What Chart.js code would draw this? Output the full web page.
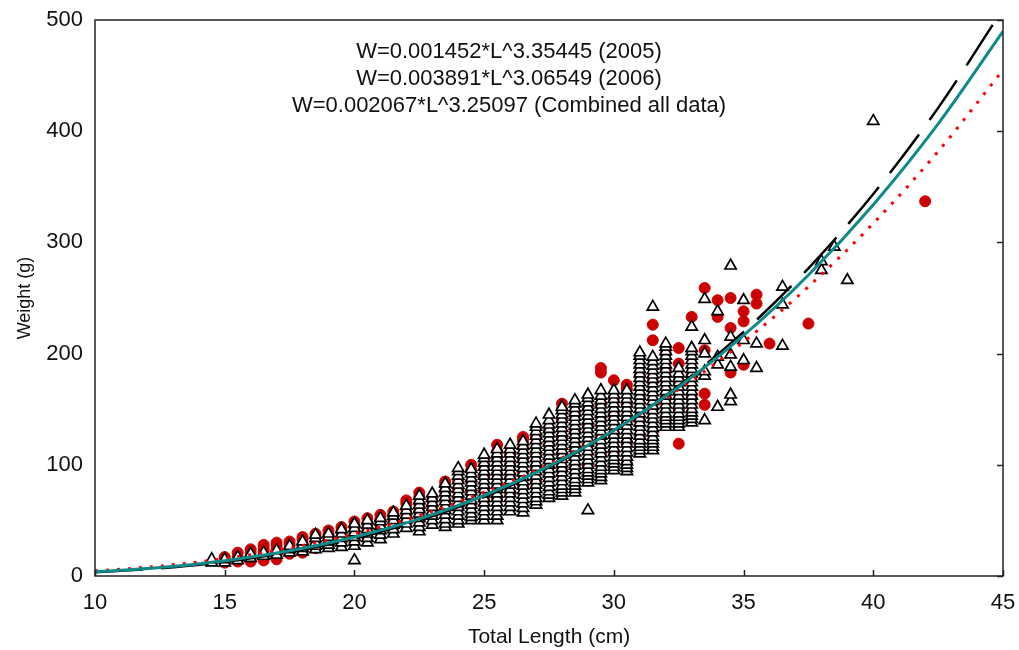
<!DOCTYPE html>
<html>
<head>
<meta charset="utf-8">
<script src="https://cdn.jsdelivr.net/npm/chart.js@4.4.0/dist/chart.umd.min.js"></script>
<style>
  html, body { margin: 0; padding: 0; background: #fff; }
</style>
</head>
<body>
<canvas id="myChart" width="1019" height="650"></canvas>
<script>
// fitted curves, read at every 2.5 cm
var curveLen = [10, 12.5, 15, 17.5, 20, 22.5, 25, 27.5, 30, 32.5, 35, 37.5, 40, 42.5, 45];
var curve2005 = [3.28, 6.94, 12.8, 21.5, 33.6, 49.9, 71.0, 97.8, 130.9, 171.2, 219.5, 276.7, 343.6, 421.0, 510.0];
var curve2006 = [4.52, 8.97, 15.7, 25.2, 37.9, 54.4, 75.1, 100.5, 131.3, 167.8, 210.6, 260.2, 317.1, 381.8, 455.0];
var curveAll = [3.68, 7.61, 13.8, 22.7, 35.1, 51.4, 72.4, 98.8, 131.0, 170.0, 216.3, 270.7, 333.9, 406.6, 489.7];

// 2006 samples (open triangles), one list of weights per length class
var triLen = [14.5, 15, 15.5, 16, 16.5, 17, 17.5, 18, 18.5, 19, 19.5, 20, 20.5, 21, 21.5, 22, 22.5, 23, 23.5, 24,
  24.5, 25, 25.5, 26, 26.5, 27, 27.5, 28, 28.5, 29, 29.5, 30, 30.5, 31, 31.5, 32, 32.5, 33, 33.5, 34,
  34.5, 35, 35.5, 36.5, 38, 38.5, 39, 40];
var triWeight = [
  [12, 15], [12, 15], [14, 17], [16, 20], [18, 21], [19, 23], [21, 24, 27], [22, 25, 28, 31],
  [24, 27, 30, 34, 37], [25, 28, 31, 35, 38], [26, 30, 34, 38, 42], [14, 27, 31, 35, 39, 43, 47],
  [30, 34, 38, 42, 46, 50], [33, 37, 41, 45, 49, 52], [38, 42, 46, 50, 54, 57], [43, 47, 51, 55, 59, 63],
  [40, 44, 48, 52, 56, 60, 64, 68, 72], [46, 50, 54, 58, 62, 66, 70, 74],
  [44, 47, 51, 55, 59, 63, 67, 71, 75, 79, 83],
  [47, 50, 54, 58, 62, 66, 70, 74, 78, 82, 86, 90, 94, 97],
  [50, 53, 56, 60, 64, 68, 72, 76, 80, 84, 88, 92, 96],
  [50, 54, 58, 62, 66, 70, 74, 78, 82, 86, 90, 94, 98, 102, 106, 109],
  [50, 54, 58, 62, 66, 70, 74, 78, 82, 86, 90, 94, 98, 102, 106, 110, 114],
  [58, 62, 66, 70, 74, 78, 82, 86, 90, 94, 98, 102, 106, 110, 114, 118],
  [57, 61, 65, 69, 73, 77, 81, 85, 89, 93, 97, 101, 105, 109, 113, 117, 121],
  [64, 67, 70, 74, 78, 82, 86, 90, 94, 98, 102, 106, 110, 114, 118, 122, 126, 130, 134, 137],
  [70, 73, 76, 80, 84, 88, 92, 96, 100, 104, 108, 112, 116, 120, 124, 128, 132, 136, 140, 145],
  [72, 75, 78, 81, 85, 89, 93, 97, 101, 105, 109, 113, 117, 121, 125, 129, 133, 137, 141, 145, 149, 152],
  [75, 78, 81, 84, 87, 91, 95, 99, 103, 107, 111, 115, 119, 123, 127, 131, 135, 139, 143, 147, 151, 155, 158],
  [59, 84, 87, 90, 93, 96, 100, 104, 108, 112, 116, 120, 124, 128, 132, 136, 140, 144, 148, 152, 156, 160, 163],
  [86, 89, 92, 95, 98, 102, 106, 110, 114, 118, 122, 126, 130, 134, 138, 142, 146, 150, 154, 158, 162, 167],
  [95, 98, 101, 104, 107, 111, 115, 119, 123, 127, 131, 135, 139, 143, 147, 151, 155, 159, 163, 167],
  [94, 97, 100, 103, 107, 111, 115, 119, 123, 127, 131, 135, 139, 143, 147, 151, 155, 159, 163, 167],
  [110, 113, 116, 119, 122, 126, 130, 134, 138, 142, 146, 150, 154, 158, 162, 166, 170, 174, 178, 182, 186, 190, 194, 198, 201],
  [113, 116, 119, 122, 125, 129, 133, 137, 141, 145, 149, 153, 157, 161, 165, 169, 173, 177, 181, 185, 189, 193, 197, 242],
  [134, 137, 140, 143, 146, 150, 154, 158, 162, 166, 170, 174, 178, 182, 186, 190, 194, 198, 202, 206, 209],
  [134, 137, 140, 143, 146, 150, 154, 158, 162, 166, 170, 174, 178, 182, 187],
  [138, 141, 144, 147, 150, 154, 158, 162, 166, 170, 174, 178, 182, 186, 190, 194, 198, 202, 205, 224],
  [140, 180, 184, 200, 212, 249], [152, 190, 197, 238], [157, 163, 188, 199, 215, 279],
  [194, 212, 248], [187, 209], [207, 244, 260], [275, 283], [296], [266], [409]
];

// 2005 samples (red dots)
var redLen = [15, 15.5, 16, 16.5, 17, 17.5, 18, 18.5, 19, 19.5, 20, 20.5, 21, 21.5, 22, 22.5, 23, 23.5, 24, 24.5,
  25, 25.5, 26, 26.5, 27, 27.5, 28, 28.5, 29, 29.5, 30, 30.5, 31, 31.5, 32, 32.5, 33, 33.5, 34, 34.5,
  35, 35.5, 36, 37.5, 42];
var redWeight = [
  [12, 15, 17], [13, 17, 21], [13, 17, 21, 24], [14, 18, 22, 25, 28], [15, 19, 23, 27, 30],
  [20, 24, 28, 31], [21, 25, 29, 33, 35], [25, 30, 35, 38], [27, 32, 37, 41], [30, 35, 40, 44],
  [32, 38, 44, 49], [35, 41, 47, 52], [40, 46, 51, 55], [44, 50, 55, 58], [48, 54, 60, 65, 68],
  [50, 58, 65, 71, 75], [55, 62, 68], [60, 68, 76, 82, 85], [62, 70, 78, 86], [65, 75, 85, 95, 100],
  [68, 78, 90, 100], [70, 80, 92, 105, 112, 118], [75, 88, 100, 110], [80, 92, 105, 115, 122, 125],
  [85, 98, 110, 125], [90, 105, 118, 130], [95, 110, 125, 140, 150, 155], [98, 115, 130, 145],
  [100, 118, 135, 150], [110, 125, 140, 155, 183, 187], [112, 128, 145, 160, 176],
  [101, 120, 140, 155, 168, 172], [125, 140, 160, 180], [130, 150, 175, 212, 226],
  [140, 160, 185, 200], [119, 150, 175, 191, 205], [160, 180, 233], [154, 164, 203, 259],
  [233, 248], [183, 223, 250], [190, 229, 238], [245, 253], [209], [227], [337]
];

var equations = [
  'W=0.001452*L^3.35445 (2005)',
  'W=0.003891*L^3.06549 (2006)',
  'W=0.002067*L^3.25097 (Combined all data)'
];

var xTicks = [10, 15, 20, 25, 30, 35, 40, 45];
var yTicks = [0, 100, 200, 300, 400, 500];

var FONT = "'Liberation Sans', Arial, sans-serif";

function toPoints(lens, weights) {
  var pts = [];
  lens.forEach(function (len, i) {
    weights[i].forEach(function (w) {
      pts.push({ x: len, y: w });
    });
  });
  return pts;
}

function curvePoints(values) {
  return curveLen.map(function (len, i) {
    return { x: len, y: values[i] };
  });
}

// no extra room for overflowing tick labels, the layout padding does that
function noScalePadding(scale) {
  scale.paddingTop = 0;
  scale.paddingBottom = 0;
  scale.paddingLeft = 0;
  scale.paddingRight = 0;
}

// frame, inside ticks and the equations
var framePlugin = {
  id: 'frame',
  afterDraw: function (chart) {
    var ctx = chart.ctx;
    var a = chart.chartArea;
    var xs = chart.scales.x, ys = chart.scales.y;
    ctx.save();
    ctx.strokeStyle = '#222';
    ctx.lineWidth = 1.5;
    ctx.strokeRect(a.left, a.top, a.right - a.left, a.bottom - a.top);
    ctx.beginPath();
    xTicks.forEach(function (v) {
      var px = Math.round(xs.getPixelForValue(v)) + 0.5;
      ctx.moveTo(px, a.bottom);
      ctx.lineTo(px, a.bottom - 6);
    });
    yTicks.forEach(function (v) {
      var py = Math.round(ys.getPixelForValue(v)) + 0.5;
      ctx.moveTo(a.right, py);
      ctx.lineTo(a.right - 6, py);
    });
    ctx.stroke();

    ctx.fillStyle = '#111';
    ctx.font = '22px ' + FONT;
    ctx.textAlign = 'center';
    ctx.textBaseline = 'middle';
    equations.forEach(function (t, i) {
      ctx.fillText(t, 509, 52 + i * 27);
    });
    ctx.restore();
  }
};

var ctx = document.getElementById('myChart').getContext('2d');
var myChart = new Chart(ctx, {
  type: 'scatter',
  data: {
    datasets: [
      {
        label: 'Combined',
        type: 'line',
        data: curvePoints(curveAll),
        borderColor: '#0e8a8a',
        borderWidth: 3,
        pointRadius: 0,
        cubicInterpolationMode: 'monotone',
        order: 0
      },
      {
        label: '2005 fit',
        type: 'line',
        data: curvePoints(curve2005),
        borderColor: '#000',
        borderWidth: 2.5,
        borderDash: [48, 18],
        pointRadius: 0,
        cubicInterpolationMode: 'monotone',
        order: 1
      },
      {
        label: '2006 fit',
        type: 'line',
        data: curvePoints(curve2006),
        borderColor: '#ff0000',
        borderWidth: 3,
        borderDash: [3, 8],
        pointRadius: 0,
        cubicInterpolationMode: 'monotone',
        order: 2
      },
      {
        label: '2006',
        data: toPoints(triLen, triWeight),
        pointStyle: 'triangle',
        pointRadius: 6.5,
        borderColor: '#000',
        borderWidth: 1.7,
        backgroundColor: '#fff',
        order: 3
      },
      {
        label: '2005',
        data: toPoints(redLen, redWeight),
        pointStyle: 'circle',
        pointRadius: 5.5,
        borderColor: '#cc0000',
        borderWidth: 1,
        backgroundColor: '#cc0000',
        order: 4
      }
    ]
  },
  options: {
    responsive: false,
    devicePixelRatio: 1,
    animation: false,
    layout: { padding: { top: 20, right: 16, left: 0, bottom: 0 } },
    plugins: {
      legend: { display: false },
      tooltip: { enabled: false }
    },
    scales: {
      x: {
        type: 'linear',
        min: 10,
        max: 45,
        grid: { display: false, drawTicks: false },
        border: { display: false },
        afterFit: function (scale) { scale.height = 74; noScalePadding(scale); },
        afterBuildTicks: function (scale) {
          scale.ticks = xTicks.map(function (v) { return { value: v }; });
        },
        ticks: { padding: 14, color: '#111', font: { family: FONT, size: 22 } },
        title: {
          display: true,
          text: 'Total Length (cm)',
          color: '#111',
          font: { family: FONT, size: 21 },
          padding: { top: 2, bottom: 0 }
        }
      },
      y: {
        type: 'linear',
        min: 0,
        max: 500,
        grid: { display: false, drawTicks: false },
        border: { display: false },
        afterFit: function (scale) { scale.width = 95; noScalePadding(scale); },
        afterBuildTicks: function (scale) {
          scale.ticks = yTicks.map(function (v) { return { value: v }; });
        },
        ticks: { padding: 12, color: '#111', font: { family: FONT, size: 22 } },
        title: {
          display: true,
          text: 'Weight (g)',
          color: '#111',
          font: { family: FONT, size: 18 },
          padding: { top: 14, bottom: 0 }
        }
      }
    }
  },
  plugins: [framePlugin]
});
</script>
</body>
</html>
